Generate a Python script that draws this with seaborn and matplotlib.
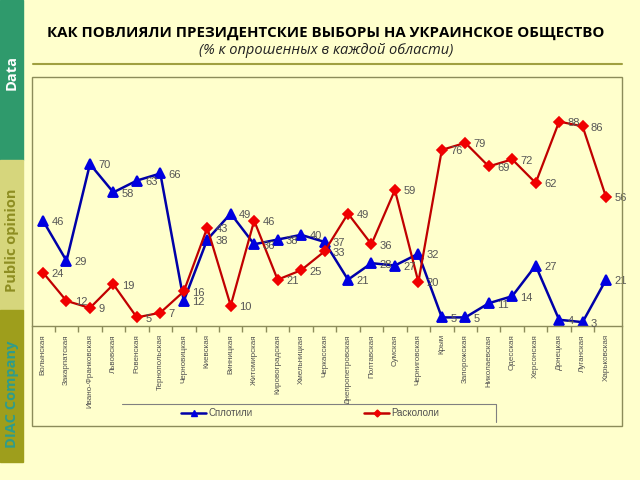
import pandas as pd
import matplotlib.pyplot as plt
import seaborn as sns
from matplotlib.patches import Rectangle
from matplotlib.lines import Line2D

# --- DATA ---
regions = ['Волынская', 'Закарпатская', 'Ивано-Франковская', 'Львовская', 'Ровенская',
           'Тернопольская', 'Черновицкая', 'Киевская', 'Винницкая', 'Житомирская',
           'Кировоградская', 'Хмельницкая', 'Черкасская', 'Днепропетровская', 'Полтавская',
           'Сумская', 'Черниговская', 'Крым', 'Запорожская', 'Николаевская',
           'Одесская', 'Херсонская', 'Донецкая', 'Луганская', 'Харьковская']
united = [46, 29, 70, 58, 63, 66, 12, 38, 49, 36, 38, 40, 37, 21, 28,
          27, 32, 5, 5, 11, 14, 27, 4, 3, 21]
split = [24, 12, 9, 19, 5, 7, 16, 43, 10, 46, 21, 25, 33, 49, 36,
         59, 20, 76, 79, 69, 72, 62, 88, 86, 56]
series_names = ['Сплотили', 'Раскололи']

# --- STYLE ---
sns.set_theme(style="white")
plt.rcParams['font.family'] = ['Liberation Sans', 'DejaVu Sans']
BG = '#FFFFCC'
BLUE_LINE, BLUE_MK = '#0000A8', '#0000E0'
RED_LINE, RED_MK = '#C00000', '#F00000'
FRAME = '#8C8C5A'
SANS = ['Open Sans', 'DejaVu Sans']

fig = plt.figure(figsize=(6.4, 4.8), dpi=100, facecolor=BG)

W, H = 640, 480
def fx(px): return px / W
def fy(py): return 1 - py / H

# side strip
fig.patches.append(Rectangle((0, fy(160)), fx(23), fy(0) - fy(160), transform=fig.transFigure,
                             color='#2F9A6C', zorder=0))
fig.patches.append(Rectangle((0, fy(310)), fx(23), fy(160) - fy(310), transform=fig.transFigure,
                             color='#D6D67C', zorder=0))
fig.patches.append(Rectangle((0, fy(462)), fx(23), fy(310) - fy(462), transform=fig.transFigure,
                             color='#9E9E1C', zorder=0))
fig.text(fx(12), fy(72), 'Data', rotation=90, ha='center', va='center',
         color='white', fontsize=10.5, fontweight='bold', family=SANS)
fig.text(fx(12), fy(240), 'Public opinion', rotation=90, ha='center', va='center',
         color='#8E8E22', fontsize=10.5, fontweight='bold', family=SANS)
fig.text(fx(12), fy(394), 'DIAC Company', rotation=90, ha='center', va='center',
         color='#2E9C8C', fontsize=10.5, fontweight='bold', family=SANS)

# titles
fig.text(fx(326), fy(33), 'КАК ПОВЛИЯЛИ ПРЕЗИДЕНТСКИЕ ВЫБОРЫ НА УКРАИНСКОЕ ОБЩЕСТВО',
         ha='center', va='center', fontsize=10.8, fontweight='bold', color='black', family=SANS)
fig.text(fx(326), fy(50), '(% к опрошенных в каждой области)', ha='center', va='center',
         fontsize=10.5, style='italic', color='#222222', family=SANS)
fig.lines.append(Line2D([fx(33), fx(622)], [fy(64), fy(64)], transform=fig.transFigure,
                        color='#A0A040', lw=1.5))

# outer frame of chart
fig.patches.append(Rectangle((fx(32), fy(426)), fx(622) - fx(32), fy(77) - fy(426),
                             transform=fig.transFigure, fill=False, edgecolor=FRAME, lw=1))

# --- PLOT ---
ax = fig.add_axes([fx(32), fy(326), fx(622) - fx(32), fy(77) - fy(326)])
ax.set_facecolor(BG)

df = pd.DataFrame({'region': regions * 2,
                   'value': united + split,
                   'series': [series_names[0]] * len(regions) + [series_names[1]] * len(regions)})

sns.pointplot(data=df[df['series'] == series_names[0]], x='region', y='value', ax=ax,
              color=BLUE_LINE, marker='^', markersize=7.5, linewidth=1.8, errorbar=None,
              markerfacecolor=BLUE_MK, markeredgecolor=BLUE_MK, label=series_names[0])
sns.pointplot(data=df[df['series'] == series_names[1]], x='region', y='value', ax=ax,
              color=RED_LINE, marker='D', markersize=5, linewidth=1.6, errorbar=None,
              markerfacecolor=RED_MK, markeredgecolor=RED_MK, label=series_names[1])

for vals in (united, split):
    for i, v in enumerate(vals):
        ax.annotate(f'{v}', (i, v), xytext=(6, -1), textcoords='offset points',
                    va='center', ha='left', fontsize=8, color='#555555')

ax.set_xlim(-0.47, 24.68)
ax.set_ylim(1.36, 106.9)
ax.set_xlabel('')
ax.set_ylabel('')
ax.set_yticks([])
for side in ['top', 'left', 'right']:
    ax.spines[side].set_visible(False)
ax.spines['bottom'].set_color(FRAME)
ax.spines['bottom'].set_linewidth(1)

ax.set_xticks(range(len(regions)))
ax.set_xticklabels(regions, rotation=90, fontsize=5.8, color='#505050', va='top')
ax.set_xticks([i + 0.5 for i in range(len(regions) - 1)], minor=True)
ax.tick_params(axis='x', which='major', length=0, pad=6)
ax.tick_params(axis='x', which='minor', length=4, color=FRAME, direction='out', bottom=True)

# legend
handles = [Line2D([], [], color=BLUE_LINE, marker='^', markersize=5, lw=1.8,
                  markerfacecolor=BLUE_MK, markeredgecolor=BLUE_MK),
           Line2D([], [], color=RED_LINE, marker='D', markersize=3.5, lw=1.8,
                  markerfacecolor=RED_MK, markeredgecolor=RED_MK)]
ax.legend().remove()
fig.legend(handles, series_names, loc='center', bbox_to_anchor=(fx(310), fy(413)),
           ncol=2, frameon=False, fontsize=7, handlelength=2.6, handletextpad=0.2,
           columnspacing=11.5, labelcolor='#505050')
fig.lines.append(Line2D([fx(122), fx(496), fx(496)], [fy(404), fy(404), fy(422)],
                        transform=fig.transFigure, color='#808080', lw=0.8))

plt.savefig('out.png', dpi=100, facecolor=BG)
plt.close()
